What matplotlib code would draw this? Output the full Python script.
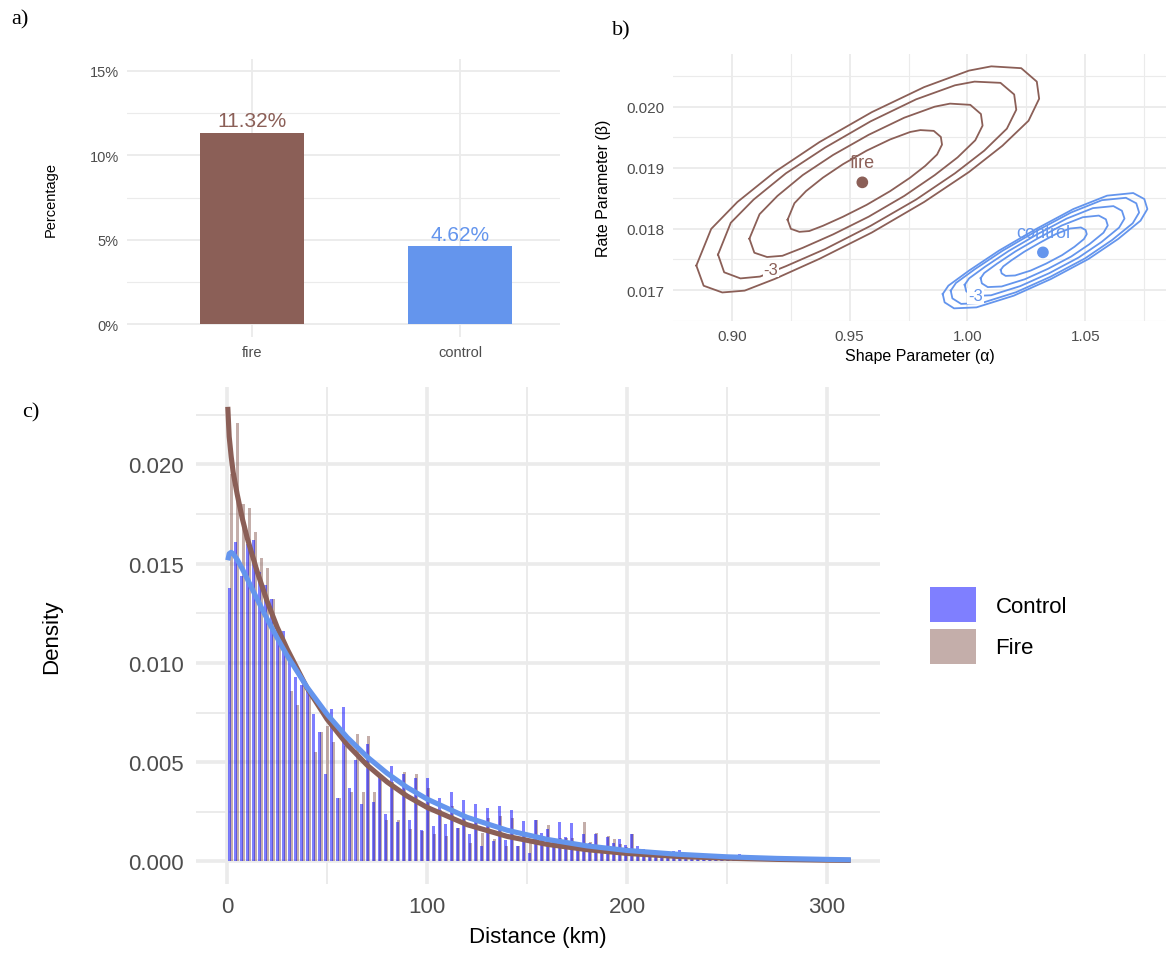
import numpy as np
import matplotlib.pyplot as plt
from matplotlib.patches import Patch
from matplotlib.ticker import MultipleLocator, FuncFormatter

plt.rcParams['font.family'] = ['Liberation Sans', 'DejaVu Sans']

FIRE = '#8B5F57'
CONTROL = '#6495ED'
GRID = '#EBEBEB'
TICK = '#4D4D4D'

# ---- a) percentage by group
groups = ['fire', 'control']
pct = [11.32, 4.62]

# ---- b) MLE of gamma parameters and likelihood contours
mle_alpha = [0.9554, 1.0320]
mle_beta = [0.018762, 0.017616]

fire_c1_a = [0.8850, 0.8913, 0.9024, 0.9182, 0.9372, 0.9594, 0.9816, 1.0006, 1.0101, 1.0228, 1.0294,
             1.0304, 1.0259, 1.0148, 1.0006, 0.9816, 0.9594, 0.9372, 0.9182, 0.9055, 0.8960, 0.8881]
fire_c1_b = [0.01740, 0.01800, 0.01844, 0.01893, 0.01942, 0.01991, 0.02032, 0.02059, 0.02066, 0.02063, 0.02041,
             0.02013, 0.01977, 0.01936, 0.01893, 0.01844, 0.01794, 0.01751, 0.01718, 0.01699, 0.01696, 0.01707]
fire_c2_a = [0.8942, 0.8996, 0.9093, 0.9230, 0.9396, 0.9589, 0.9782, 0.9947, 1.0030, 1.0140, 1.0198,
             1.0207, 1.0167, 1.0071, 0.9947, 0.9782, 0.9589, 0.9396, 0.9230, 0.9120, 0.9037, 0.8968]
fire_c2_b = [0.01758, 0.01810, 0.01848, 0.01891, 0.01933, 0.01976, 0.02012, 0.02035, 0.02041, 0.02039, 0.02020,
             0.01995, 0.01964, 0.01928, 0.01891, 0.01848, 0.01805, 0.01767, 0.01739, 0.01722, 0.01719, 0.01729]
fire_c3_a = [0.9075, 0.9118, 0.9194, 0.9301, 0.9430, 0.9581, 0.9732, 0.9861, 0.9926, 1.0012, 1.0057,
             1.0064, 1.0033, 0.9958, 0.9861, 0.9732, 0.9581, 0.9430, 0.9301, 0.9215, 0.9150, 0.9096]
fire_c3_b = [0.01784, 0.01824, 0.01854, 0.01888, 0.01921, 0.01954, 0.01982, 0.02000, 0.02005, 0.02003, 0.01988,
             0.01969, 0.01945, 0.01917, 0.01888, 0.01854, 0.01820, 0.01791, 0.01769, 0.01756, 0.01754, 0.01761]
fire_c4_a = [0.9237, 0.9266, 0.9315, 0.9387, 0.9472, 0.9572, 0.9672, 0.9757, 0.9800, 0.9857, 0.9887,
             0.9892, 0.9871, 0.9821, 0.9757, 0.9672, 0.9572, 0.9472, 0.9387, 0.9329, 0.9287, 0.9251]
fire_c4_b = [0.018150, 0.018420, 0.018618, 0.018839, 0.019059, 0.019280, 0.019464, 0.019586, 0.019617, 0.019604,
             0.019505, 0.019379, 0.019217, 0.019032, 0.018839, 0.018618, 0.018393, 0.018199, 0.018051, 0.017965,
             0.017952, 0.018001]

ctrl_c1_a = [0.9895, 0.9919, 1.0006, 1.0133, 1.0291, 1.0449, 1.0592, 1.0703, 1.0750, 1.0763, 1.0734, 1.0639,
             1.0513, 1.0354, 1.0196, 1.0038, 0.9943, 0.9903]
ctrl_c1_b = [0.016935, 0.017071, 0.017316, 0.017643, 0.017998, 0.018325, 0.018544, 0.018587, 0.018489, 0.018325,
             0.018135, 0.017835, 0.017507, 0.017180, 0.016907, 0.016716, 0.016700, 0.016798]
ctrl_c2_a = [0.9929, 0.9951, 1.0031, 1.0148, 1.0293, 1.0439, 1.0570, 1.0672, 1.0716, 1.0728, 1.0701, 1.0613,
             1.0498, 1.0351, 1.0206, 1.0061, 0.9973, 0.9936]
ctrl_c2_b = [0.016989, 0.017115, 0.017340, 0.017641, 0.017967, 0.018268, 0.018470, 0.018509, 0.018419, 0.018268,
             0.018093, 0.017817, 0.017516, 0.017215, 0.016964, 0.016788, 0.016773, 0.016863]
ctrl_c3_a = [0.9988, 1.0007, 1.0075, 1.0174, 1.0297, 1.0421, 1.0532, 1.0619, 1.0655, 1.0666, 1.0643, 1.0569,
             1.0471, 1.0347, 1.0223, 1.0100, 1.0026, 0.9995]
ctrl_c3_b = [0.017085, 0.017191, 0.017382, 0.017637, 0.017914, 0.018169, 0.018340, 0.018373, 0.018297, 0.018169,
             0.018021, 0.017787, 0.017531, 0.017276, 0.017063, 0.016914, 0.016902, 0.016978]
ctrl_c4_a = [1.0056, 1.0071, 1.0125, 1.0204, 1.0302, 1.0400, 1.0489, 1.0557, 1.0587, 1.0595, 1.0577, 1.0518,
             1.0440, 1.0341, 1.0243, 1.0145, 1.0086, 1.0061]
ctrl_c4_b = [0.017194, 0.017278, 0.017430, 0.017633, 0.017853, 0.018056, 0.018191, 0.018218, 0.018157, 0.018056,
             0.017938, 0.017752, 0.017548, 0.017346, 0.017176, 0.017058, 0.017048, 0.017109]
ctrl_c5_a = [1.0141, 1.0152, 1.0188, 1.0241, 1.0308, 1.0374, 1.0434, 1.0481, 1.0501, 1.0506, 1.0494, 1.0454,
             1.0401, 1.0334, 1.0268, 1.0202, 1.0162, 1.0145]
ctrl_c5_b = [0.017330, 0.017387, 0.017490, 0.017627, 0.017776, 0.017914, 0.018006, 0.018024, 0.017983, 0.017914,
             0.017834, 0.017708, 0.017570, 0.017433, 0.017318, 0.017238, 0.017231, 0.017272]

# ---- c) distance histograms (density, x1e-3) in 3 km bins, with fitted gamma curves
bin_w = 3.0
control_hist = [13.75, 16.1, 14.4, 16.0, 16.2, 14.6, 13.9, 13.2, 11.7, 11.6,
                10.2, 9.3, 8.9, 8.7, 7.4, 6.5, 4.4, 7.7, 3.2, 7.8,
                3.7, 5.1, 2.9, 5.9, 3.0, 4.3, 2.4, 4.8, 2.0, 4.4,
                2.1, 4.2, 1.6, 4.2, 1.8, 3.2, 1.87, 3.47, 1.7, 3.1,
                1.36, 2.91, 0.78, 2.68, 1.03, 2.79, 1.1, 2.57, 0.77, 2.04,
                0.44, 2.1, 1.45, 1.65, 1.1, 1.99, 1.25, 1.95, 0.86, 1.37,
                0.94, 1.4, 0.77, 1.25, 0.95, 1.14, 0.8, 1.37, 0.77, 0.6,
                0.45, 0.5, 0.35, 0.4, 0.53, 0.55, 0.3, 0.35, 0.25, 0.3,
                0.25, 0.2, 0.25, 0.2, 0.2, 0.36, 0.15, 0.15, 0.1, 0.12,
                0.1, 0.08, 0.1, 0.06, 0.08, 0.05, 0.06, 0.05, 0.04, 0.05,
                0.03, 0.04, 0.03, 0.03]
fire_hist = [19.5, 22.1, 18.0, 17.8, 16.6, 15.3, 14.8, 13.2, 11.7, 10.5,
             8.6, 7.9, 8.9, 8.6, 5.5, 6.5, 6.8, 6.0, 3.2, 5.8,
             3.5, 6.4, 3.5, 6.3, 3.5, 4.3, 2.1, 4.0, 2.1, 4.5,
             1.65, 4.4, 1.55, 3.7, 1.4, 2.6, 1.28, 2.8, 1.7, 2.2,
             0.94, 1.96, 1.45, 2.2, 1.11, 2.29, 0.77, 2.2, 0.77, 1.3,
             0.94, 2.1, 1.3, 1.82, 0.9, 1.2, 1.2, 1.2, 0.86, 1.99,
             0.98, 1.45, 0.6, 1.3, 1.11, 0.9, 0.7, 1.4, 0.5, 0.45,
             0.35, 0.3, 0.3, 0.25, 0.3, 0.35, 0.2, 0.2, 0.15, 0.2,
             0.15, 0.1, 0.15, 0.1, 0.1, 0.1, 0.08, 0.1, 0.05, 0.06,
             0.05, 0.04, 0.05, 0.03, 0.04, 0.03, 0.03, 0.02, 0.02, 0.03,
             0.02, 0.02, 0.01, 0.02]

curve_x = [0.3, 1, 2, 3, 5, 7.5, 10, 15, 20, 25, 30, 40, 50, 60, 70, 80, 90, 100,
           120, 140, 160, 180, 200, 225, 250, 275, 300, 312]
fire_curve = [22.9, 21.4, 20.4, 19.6, 18.5, 17.3, 16.3, 14.6, 13.1, 11.8, 10.7, 8.73, 7.16, 5.89, 4.85,
              4.00, 3.29, 2.72, 1.85, 1.26, 0.86, 0.59, 0.40, 0.25, 0.16, 0.10, 0.06, 0.05]
control_curve = [15.17, 15.50, 15.57, 15.50, 15.21, 14.75, 14.24, 13.21, 12.21, 11.26, 10.37, 8.77, 7.41,
                 6.25, 5.27, 4.44, 3.73, 3.14, 2.22, 1.57, 1.11, 0.78, 0.55, 0.36, 0.23, 0.15, 0.10, 0.08]


def minimal(ax, major_lw, minor_lw):
    for s in ax.spines.values():
        s.set_visible(False)
    ax.tick_params(which='both', length=0, colors=TICK)
    ax.grid(True, which='major', color=GRID, lw=major_lw)
    ax.grid(True, which='minor', color=GRID, lw=minor_lw)
    ax.set_axisbelow(True)


W, H = 1166, 954
fig = plt.figure(figsize=(W / 100, H / 100), dpi=100)


def box(l, t, r, b):
    return [l / W, 1 - b / H, (r - l) / W, (b - t) / H]


# ---------------- a)
ax1 = fig.add_axes(box(127, 60, 560, 338))
xs = np.arange(1, len(groups) + 1)
cols = [FIRE, CONTROL]
ax1.bar(xs, pct, width=0.5, color=cols, zorder=2)
for x, v, c in zip(xs, pct, cols):
    ax1.text(x, v + 0.15, f"{v:.2f}%", ha='center', va='bottom', color=c, fontsize=15)
ax1.set_xlim(0.4, 2.48)
ax1.set_ylim(-0.75, 15.7)
ax1.set_xticks(xs)
ax1.set_xticklabels(groups)
ax1.yaxis.set_major_locator(MultipleLocator(5))
ax1.yaxis.set_minor_locator(MultipleLocator(2.5))
ax1.yaxis.set_major_formatter(FuncFormatter(lambda v, p: f"{v:.0f}%"))
minimal(ax1, 1.3, 0.8)
ax1.xaxis.grid(True, which='major', color=GRID, lw=1.3)
ax1.tick_params(axis='both', labelsize=10.5, pad=6)
ax1.set_ylabel('Percentage', fontsize=10.5)
ax1.yaxis.set_label_coords(-0.16, 0.5)

# ---------------- b)
ax2 = fig.add_axes(box(673, 55, 1166, 322))
for ca, cb in [(fire_c1_a, fire_c1_b), (fire_c2_a, fire_c2_b), (fire_c3_a, fire_c3_b), (fire_c4_a, fire_c4_b)]:
    ax2.plot(ca + ca[:1], cb + cb[:1], color=FIRE, lw=1.3)
for ca, cb in [(ctrl_c1_a, ctrl_c1_b), (ctrl_c2_a, ctrl_c2_b), (ctrl_c3_a, ctrl_c3_b),
               (ctrl_c4_a, ctrl_c4_b), (ctrl_c5_a, ctrl_c5_b)]:
    ax2.plot(ca + ca[:1], cb + cb[:1], color=CONTROL, lw=1.3)
ax2.scatter(mle_alpha, mle_beta, s=55, color=[FIRE, CONTROL], zorder=3)
ax2.text(mle_alpha[0], mle_beta[0] + 0.00018, 'fire', color=FIRE, ha='center', va='bottom', fontsize=13)
ax2.text(mle_alpha[1], mle_beta[1] + 0.00018, 'control', color=CONTROL, ha='center', va='bottom', fontsize=13)
ax2.text(0.9166, 0.01734, '-3', color=FIRE, ha='center', va='center', fontsize=12,
         bbox=dict(facecolor='white', edgecolor='none', pad=0.5))
ax2.text(1.0034, 0.016907, '-3', color=CONTROL, ha='center', va='center', fontsize=12,
         bbox=dict(facecolor='white', edgecolor='none', pad=0.5))
ax2.set_xlim(0.8751, 1.0842)
ax2.set_ylim(0.016493, 0.020862)
ax2.xaxis.set_major_locator(MultipleLocator(0.05))
ax2.xaxis.set_minor_locator(MultipleLocator(0.025))
ax2.yaxis.set_major_locator(MultipleLocator(0.001))
ax2.yaxis.set_minor_locator(MultipleLocator(0.0005))
ax2.xaxis.set_major_formatter(FuncFormatter(lambda v, p: f"{v:.2f}"))
ax2.yaxis.set_major_formatter(FuncFormatter(lambda v, p: f"{v:.3f}"))
minimal(ax2, 1.3, 0.8)
ax2.tick_params(axis='both', labelsize=11, pad=6)
ax2.set_xlabel('Shape Parameter (\u03b1)', fontsize=11.5, labelpad=3)
ax2.set_ylabel('Rate Parameter (\u03b2)', fontsize=11.5)
ax2.yaxis.set_label_coords(-0.125, 0.5)

# ---------------- c)
ax3 = fig.add_axes(box(196, 388, 880, 885))
centers = np.arange(len(control_hist)) * bin_w + bin_w / 2
ax3.bar(centers + 0.45, np.array(fire_hist) / 1000, width=1.5, color=FIRE, alpha=0.5, lw=0, zorder=2)
ax3.bar(centers - 0.1, np.array(control_hist) / 1000, width=1.5, color='blue', alpha=0.5, lw=0, zorder=2)
ax3.plot(curve_x, np.array(fire_curve) / 1000, color=FIRE, lw=3.7, zorder=3, solid_capstyle='butt')
ax3.plot(curve_x, np.array(control_curve) / 1000, color=CONTROL, lw=3.7, zorder=4, solid_capstyle='butt')
ax3.set_xlim(-15.6, 326.6)
ax3.set_ylim(-0.00114, 0.0239)
ax3.xaxis.set_major_locator(MultipleLocator(100))
ax3.xaxis.set_minor_locator(MultipleLocator(50))
ax3.yaxis.set_major_locator(MultipleLocator(0.005))
ax3.yaxis.set_minor_locator(MultipleLocator(0.0025))
ax3.yaxis.set_major_formatter(FuncFormatter(lambda v, p: f"{v:.3f}"))
minimal(ax3, 2.6, 1.4)
ax3.tick_params(axis='both', labelsize=16, pad=9)
ax3.set_xlabel('Distance (km)', fontsize=16, labelpad=6)
ax3.set_ylabel('Density', fontsize=16)
ax3.yaxis.set_label_coords(-0.195, 0.5)

handles = [Patch(facecolor='blue', alpha=0.5, edgecolor='none'),
           Patch(facecolor=FIRE, alpha=0.5, edgecolor='none')]
fig.legend(handles, ['Control', 'Fire'], loc='upper left', bbox_to_anchor=(930 / W, 1 - 588 / H),
           frameon=False, fontsize=16, handlelength=2.05, handleheight=2.05, labelspacing=0.3,
           handletextpad=0.9, borderpad=0, borderaxespad=0)

# panel tags
fig.text(11 / W, 1 - 20 / H, 'a)', family='Liberation Serif', fontsize=16, va='center')
fig.text(612 / W, 1 - 31 / H, 'b)', family='Liberation Serif', fontsize=16, va='center')
fig.text(22 / W, 1 - 413 / H, 'c)', family='Liberation Serif', fontsize=16, va='center')

fig.savefig('out.png', dpi=100)
